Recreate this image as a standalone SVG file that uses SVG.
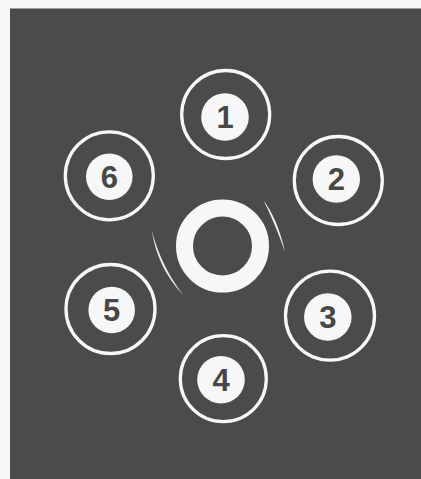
<svg xmlns="http://www.w3.org/2000/svg" width="421" height="479" viewBox="0 0 421 479">
<style>
.ring{fill:none;stroke:#f7f7f7;stroke-width:3.3}
.disk{fill:#f7f7f7}
.num{font-family:"Liberation Sans",Arial,sans-serif;font-weight:bold;font-size:31px;fill:#474747;text-anchor:middle}
.swoosh{fill:#eeeeee}
</style>
<rect x="0" y="0" width="421" height="479" fill="#f6f6f6"/>
<rect x="10" y="8.5" width="411" height="470.5" fill="#4b4b4b"/>
<g id="center">
<circle cx="222.5" cy="246" r="38" fill="none" stroke="#f7f7f7" stroke-width="17"/>
</g>
<g id="connectors">
<path class="swoosh" d="M151.7,230 Q157.5,268.5 183.3,295 Q161,266.5 151.7,230 Z"/>
<path class="swoosh" d="M263.3,200 Q277.8,219.5 285,251.7 Q274.3,221.8 263.3,200 Z"/>
</g>
<g id="n1">
<circle class="ring" cx="225.7" cy="114.5" r="44"/>
<circle class="disk" cx="225" cy="117" r="23.8"/>
<text class="num" x="225" y="128">1</text>
</g>
<g id="n2">
<circle class="ring" cx="338.3" cy="180.5" r="44"/>
<circle class="disk" cx="336.3" cy="179" r="23.7"/>
<text class="num" x="336.3" y="190">2</text>
</g>
<g id="n3">
<circle class="ring" cx="330" cy="315.7" r="44.5"/>
<circle class="disk" cx="327.8" cy="317" r="23.8"/>
<text class="num" x="327.8" y="328">3</text>
</g>
<g id="n4">
<circle class="ring" cx="223.3" cy="378.7" r="43"/>
<circle class="disk" cx="221" cy="379.7" r="23.8"/>
<text class="num" x="221" y="390.7">4</text>
</g>
<g id="n5">
<circle class="ring" cx="110.5" cy="309" r="44.5"/>
<circle class="disk" cx="111.7" cy="310" r="23.3"/>
<text class="num" x="111.7" y="321">5</text>
</g>
<g id="n6">
<circle class="ring" cx="109.3" cy="175.8" r="44"/>
<circle class="disk" cx="109.3" cy="176.7" r="23.3"/>
<text class="num" x="109.3" y="187.7">6</text>
</g>
</svg>
